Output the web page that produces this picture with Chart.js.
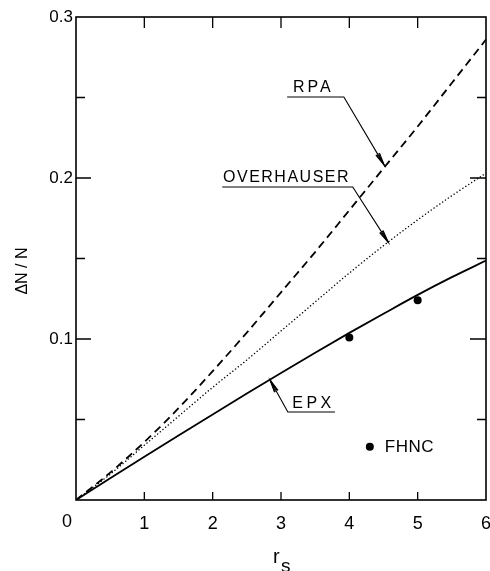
<!DOCTYPE html>
<html>
<head>
<meta charset="utf-8">
<script src="https://cdn.jsdelivr.net/npm/chart.js@4.4.0/dist/chart.umd.min.js"></script>
<style>
  html, body { margin: 0; padding: 0; background: #fff; }
  #wrap { width: 490px; height: 571px; }
</style>
</head>
<body>
<div id="wrap"><canvas id="c" width="490" height="571"></canvas></div>
<script>
// ---- data ----
const rs          = [0, 0.5, 1, 1.5, 2, 2.5, 3, 3.5, 4, 4.5, 5, 5.5, 6];
const rpa         = [0, 0.017, 0.036, 0.057, 0.080, 0.104, 0.129, 0.154, 0.180, 0.206, 0.232, 0.259, 0.286];
const overhauser  = [0, 0.016, 0.034, 0.052, 0.070, 0.087, 0.105, 0.123, 0.141, 0.158, 0.174, 0.189, 0.203];
const epx         = [0, 0.0135, 0.0268, 0.0400, 0.0531, 0.0661, 0.0789, 0.0915, 0.1038, 0.1157, 0.1274, 0.1384, 0.1487];
const fhncRs      = [4, 5];
const fhncVals    = [0.101, 0.124];
const xTickValues = [0, 1, 2, 3, 4, 5, 6];
const yTickLabels = ['0.1', '0.2', '0.3'];
const yMajorTicks = [0.1, 0.2];
const yMinorTicks = [0.05, 0.15, 0.25];
const seriesNames = ['RPA', 'OVERHAUSER', 'EPX', 'FHNC'];

// ---- annotation placement (data coordinates) ----
const annotations = [
  { text: seriesNames[0], tx: 3.45, ty: 0.256, ux0: 3.09, ux1: 3.92, uy: 0.2503, fromRight: true,  tipX: 4.51, tipY: 0.208, spacing: 3 },
  { text: seriesNames[1], tx: 3.07, ty: 0.2003, ux0: 2.14, ux1: 4.05, uy: 0.1944, fromRight: true, tipX: 4.57, tipY: 0.160, spacing: 1.5 },
  { text: seriesNames[2], tx: 3.45, ty: 0.0599, ux0: 3.10, ux1: 3.79, uy: 0.0547, fromRight: false, tipX: 2.84, tipY: 0.0745, spacing: 3.5 }
];
const legendPos = { x: 4.30, y: 0.033 };

const FONT = '"Liberation Sans", Arial, Helvetica, sans-serif';
const pts = (xs, ys) => xs.map((x, i) => ({ x, y: ys[i] }));

function arrowHead(ctx, x0, y0, x1, y1) {
  const ang = Math.atan2(y1 - y0, x1 - x0);
  const L = 13;
  [0.16, 0.09].forEach(a => {
    ctx.beginPath();
    ctx.moveTo(x1 - L * Math.cos(ang - a), y1 - L * Math.sin(ang - a));
    ctx.lineTo(x1, y1);
    ctx.lineTo(x1 - L * Math.cos(ang + a), y1 - L * Math.sin(ang + a));
    ctx.stroke();
  });
}

const decor = {
  id: 'decor',
  afterDraw(chart) {
    const ctx = chart.ctx, xs = chart.scales.x, ys = chart.scales.y, a = chart.chartArea;
    ctx.save();
    ctx.strokeStyle = '#000';
    ctx.fillStyle = '#000';
    // frame
    ctx.lineWidth = 1.6;
    ctx.strokeRect(a.left, a.top, a.right - a.left, a.bottom - a.top);
    // inward ticks
    ctx.lineWidth = 1.3;
    ctx.beginPath();
    xTickValues.slice(1, -1).forEach(v => {
      const px = xs.getPixelForValue(v);
      ctx.moveTo(px, a.bottom); ctx.lineTo(px, a.bottom - 8);
      ctx.moveTo(px, a.top); ctx.lineTo(px, a.top + 11);
    });
    yMajorTicks.forEach(v => {
      const py = ys.getPixelForValue(v);
      ctx.moveTo(a.left, py); ctx.lineTo(a.left + 15, py);
      ctx.moveTo(a.right, py); ctx.lineTo(a.right - 16, py);
    });
    yMinorTicks.forEach(v => {
      const py = ys.getPixelForValue(v);
      ctx.moveTo(a.left, py); ctx.lineTo(a.left + 9, py);
      ctx.moveTo(a.right, py); ctx.lineTo(a.right - 9, py);
    });
    ctx.stroke();

    // origin label
    ctx.font = '18px ' + FONT;
    ctx.textAlign = 'center';
    ctx.textBaseline = 'middle';
    ctx.fillText(String(xTickValues[0]), xs.getPixelForValue(0) - 9, a.bottom + 22);

    // annotations
    ctx.font = '16px ' + FONT;
    annotations.forEach(an => {
      ctx.letterSpacing = an.spacing + 'px';
      ctx.textAlign = 'center';
      ctx.textBaseline = 'middle';
      ctx.fillText(an.text, xs.getPixelForValue(an.tx) + an.spacing / 2, ys.getPixelForValue(an.ty));
      ctx.letterSpacing = '0px';
      const u0 = xs.getPixelForValue(an.ux0), u1 = xs.getPixelForValue(an.ux1), uy = ys.getPixelForValue(an.uy);
      const sx = an.fromRight ? u1 : u0;
      const tx = xs.getPixelForValue(an.tipX), ty = ys.getPixelForValue(an.tipY);
      ctx.lineWidth = 1.1;
      ctx.beginPath();
      ctx.moveTo(an.fromRight ? u0 : u1, uy);
      ctx.lineTo(sx, uy);
      ctx.lineTo(tx, ty);
      ctx.stroke();
      arrowHead(ctx, sx, uy, tx, ty);
    });

    // legend for FHNC
    const lx = xs.getPixelForValue(legendPos.x), ly = ys.getPixelForValue(legendPos.y);
    ctx.beginPath(); ctx.arc(lx, ly, 4, 0, Math.PI * 2); ctx.fill();
    ctx.textAlign = 'left';
    ctx.textBaseline = 'middle';
    ctx.font = '17px ' + FONT;
    ctx.letterSpacing = '0.5px';
    ctx.fillText(seriesNames[3], lx + 15, ly);
    ctx.letterSpacing = '0px';

    // y title
    ctx.save();
    ctx.translate(22.5, 271);
    ctx.rotate(-Math.PI / 2);
    ctx.font = '16px ' + FONT;
    ctx.textAlign = 'center';
    ctx.textBaseline = 'middle';
    ctx.fillText('\u0394N / N', 0, 0);
    ctx.restore();

    // x title r_s
    const cx = (a.left + a.right) / 2;
    ctx.font = '20px ' + FONT;
    ctx.textAlign = 'left';
    ctx.textBaseline = 'alphabetic';
    ctx.fillText('r', cx - 8, 563);
    ctx.font = '19px ' + FONT;
    ctx.fillText('s', cx, 572);
    ctx.restore();
  }
};

new Chart(document.getElementById('c'), {
  type: 'scatter',
  data: {
    datasets: [
      { label: seriesNames[0], data: pts(rs, rpa), showLine: true, borderColor: '#000', borderWidth: 1.8,
        borderDash: [8, 5], pointRadius: 0, cubicInterpolationMode: 'monotone', fill: false },
      { label: seriesNames[1], data: pts(rs, overhauser), showLine: true, borderColor: '#000', borderWidth: 1.4,
        borderDash: [0.1, 3.4], borderCapStyle: 'round', pointRadius: 0, cubicInterpolationMode: 'monotone', fill: false },
      { label: seriesNames[2], data: pts(rs, epx), showLine: true, borderColor: '#000', borderWidth: 1.8,
        pointRadius: 0, cubicInterpolationMode: 'monotone', fill: false },
      { label: seriesNames[3], data: pts(fhncRs, fhncVals), showLine: false, pointRadius: 4,
        backgroundColor: '#000', borderColor: '#000', borderWidth: 0 }
    ]
  },
  options: {
    responsive: false,
    devicePixelRatio: 1,
    animation: false,
    events: [],
    layout: { padding: { top: 17, right: 4, left: 0, bottom: 0 } },
    plugins: { legend: { display: false }, tooltip: { enabled: false } },
    scales: {
      x: {
        type: 'linear', min: 0, max: 6,
        grid: { display: false, drawTicks: false },
        border: { display: false },
        ticks: {
          stepSize: 1, autoSkip: false, maxRotation: 0, color: '#000', padding: 13,
          font: { family: FONT, size: 18 },
          callback: v => (v === 0 ? '' : String(v))
        },
        afterFit: s => { s.height = 71; s.paddingLeft = 0; s.paddingRight = 0; s.paddingTop = 0; s.paddingBottom = 0; }
      },
      y: {
        type: 'linear', min: 0, max: 0.3,
        grid: { display: false, drawTicks: false },
        border: { display: false },
        ticks: {
          stepSize: 0.05, autoSkip: false, color: '#000', padding: 3,
          font: { family: FONT, size: 17 },
          callback: v => { const s = (Math.round(v * 100) / 100).toFixed(2); const t = s.endsWith('0') ? s.slice(0, -1) : s; return yTickLabels.includes(t) ? t : ''; }
        },
        afterFit: s => { s.width = 76; s.paddingLeft = 0; s.paddingRight = 0; s.paddingTop = 0; s.paddingBottom = 0; }
      }
    }
  },
  plugins: [decor]
});
</script>
</body>
</html>
